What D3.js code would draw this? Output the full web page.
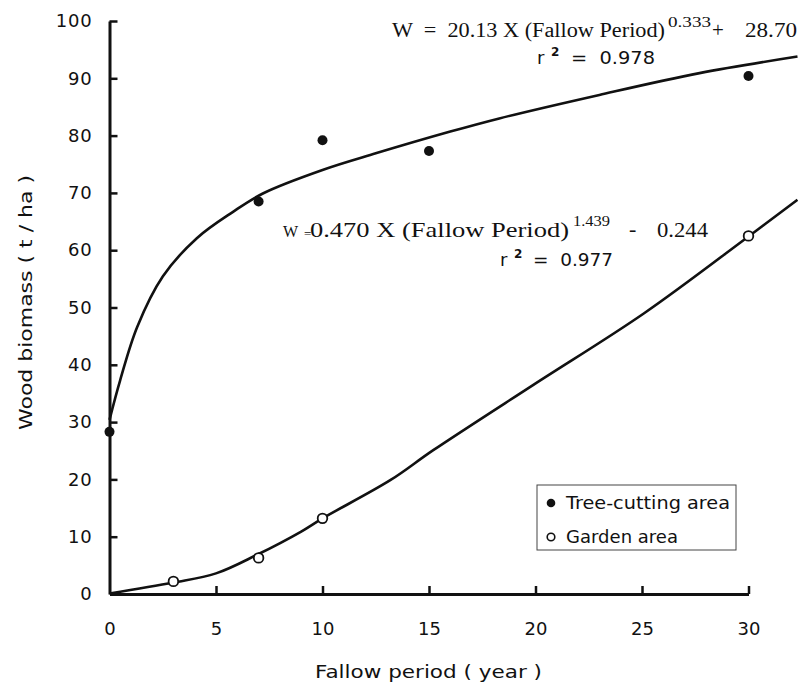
<!DOCTYPE html>
<html>
<head>
<meta charset="utf-8">
<script src="https://cdn.jsdelivr.net/npm/d3@7"></script>
<style>
  body { margin: 0; background: #fff; }
  svg { display: block; }
  .tick text { font-family: "DejaVu Sans", sans-serif; font-size: 18px; fill: #111; }
  .lbl { font-family: "DejaVu Sans", sans-serif; font-size: 18px; fill: #111; }
  .eq { font-family: "Liberation Serif", serif; fill: #111; }
  .r2 { font-family: "DejaVu Sans", sans-serif; fill: #111; }
</style>
</head>
<body>
<svg id="chart" width="798" height="685"></svg>
<script>
// observed points
const treeYears = [0, 7, 10, 15, 30];
const treeBiomass = [28.3, 68.5, 79.2, 77.3, 90.4];
const gardenYears = [3, 7, 10, 30];
const gardenBiomass = [2.2, 6.3, 13.2, 62.5];

// fitted curves
const treeCurveX = [0, 0.5, 1.3, 2.5, 4.1, 5.8, 7.2, 10, 12.5, 16, 18.3, 23, 27.7, 32.3];
const treeCurveY = [30.4, 37.3, 46.6, 55.4, 62.1, 66.7, 69.9, 74.0, 76.9, 80.7, 83.0, 87.1, 90.9, 93.8];
const gardenCurveX = [0, 3, 5, 6.9, 9, 10, 13.2, 15.2, 19.9, 25.1, 30, 32.3];
const gardenCurveY = [0.1, 2.0, 3.6, 6.8, 10.9, 13.2, 19.9, 25.1, 36.5, 49.0, 62.4, 68.8];

const xTicks = [0, 5, 10, 15, 20, 25, 30];
const yTicks = [0, 10, 20, 30, 40, 50, 60, 70, 80, 90, 100];
const legendLabels = ['Tree-cutting area', 'Garden area'];

const svg = d3.select('#chart');

const x = d3.scaleLinear().domain([0, 30]).range([109.5, 748.5]);
const y = d3.scaleLinear().domain([0, 100]).range([594, 21]);

// axes, ticks pointing inward
const xAxis = d3.axisBottom(x).tickValues(xTicks).tickSize(-8).tickPadding(28).tickSizeOuter(0);
const yAxis = d3.axisLeft(y).tickValues(yTicks).tickSize(-8).tickPadding(17).tickSizeOuter(0);

const gx = svg.append('g').attr('transform', `translate(0,${y(0)})`).call(xAxis);
const gy = svg.append('g').attr('transform', `translate(${x(0)},0)`).call(yAxis);
[gx, gy].forEach(g => {
    g.select('.domain').attr('stroke', '#111').attr('stroke-width', 3);
    g.selectAll('.tick line').attr('stroke', '#111').attr('stroke-width', 2.5);
});
gy.selectAll('.tick text').attr('letter-spacing', 0.8);
gy.selectAll('.tick').filter(d => d === 0).select('line').remove();
gx.selectAll('.tick').filter(d => d === 0).select('line').remove();

// axis titles
svg.append('text').attr('class', 'lbl')
    .attr('x', 315).attr('y', 678)
    .attr('textLength', 227).attr('lengthAdjust', 'spacingAndGlyphs')
    .text('Fallow period ( year )');
svg.append('text').attr('class', 'lbl')
    .attr('transform', 'translate(32,430) rotate(-90)')
    .attr('textLength', 255).attr('lengthAdjust', 'spacingAndGlyphs')
    .text('Wood biomass ( t / ha )');

// fitted curves
const line = d3.line().x(d => x(d[0])).y(d => y(d[1])).curve(d3.curveCatmullRom.alpha(0.5));

svg.append('path').datum(d3.zip(treeCurveX, treeCurveY))
    .attr('d', line).attr('fill', 'none').attr('stroke', '#111').attr('stroke-width', 2.6);
svg.append('path').datum(d3.zip(gardenCurveX, gardenCurveY))
    .attr('d', line).attr('fill', 'none').attr('stroke', '#111').attr('stroke-width', 2.6);

// points
svg.append('g').selectAll('circle')
    .data(d3.zip(treeYears, treeBiomass))
    .join('circle')
    .attr('cx', d => x(d[0])).attr('cy', d => y(d[1]))
    .attr('r', 5).attr('fill', '#111');

svg.append('g').selectAll('circle')
    .data(d3.zip(gardenYears, gardenBiomass))
    .join('circle')
    .attr('cx', d => x(d[0])).attr('cy', d => y(d[1]))
    .attr('r', 4.8).attr('fill', '#fff').attr('stroke', '#111').attr('stroke-width', 1.8);

// small helper for the equation pieces
function piece(cls, tx, ty, size, str, len) {
    const t = svg.append('text').attr('class', cls)
        .attr('x', tx).attr('y', ty).attr('font-size', size)
        .style('white-space', 'pre').text(str);
    if (len) t.attr('textLength', len).attr('lengthAdjust', 'spacingAndGlyphs');
    return t;
}

// tree-cutting fit
piece('eq', 392, 37, 20, 'W  =  20.13 X (Fallow Period)', 273);
piece('eq', 668, 27, 14, '0.333', 43);
piece('eq', 712, 37, 21, '+');
piece('eq', 745, 37, 20, '28.70', 52);
piece('r2', 537, 64, 18, 'r');
piece('r2', 551, 56, 12, '2').attr('font-weight', 'bold');
piece('r2', 571, 64, 18, '=  0.978', 84);

// garden fit
piece('eq', 283, 237, 16, 'W');
piece('eq', 304, 238, 13, '=');
piece('eq', 310, 237, 22, '0.470 X (Fallow Period)', 259);
piece('eq', 573, 226, 15, '1.439', 37);
piece('eq', 629, 236, 22, '-');
piece('eq', 657, 237, 22, '0.244', 51);
piece('r2', 500, 266, 18, 'r');
piece('r2', 514, 258, 12, '2').attr('font-weight', 'bold');
piece('r2', 533, 266, 18, '=  0.977', 80);

// legend
const legend = svg.append('g');
legend.append('rect')
    .attr('x', 537).attr('y', 485).attr('width', 199).attr('height', 65)
    .attr('fill', 'none').attr('stroke', '#444').attr('stroke-width', 1);
legendLabels.forEach((lab, i) => {
    const cy = 503 + i * 34;
    const c = legend.append('circle').attr('cx', 551).attr('cy', cy).attr('r', i === 0 ? 4.3 : 3.8);
    if (i === 0) c.attr('fill', '#111');
    else c.attr('fill', '#fff').attr('stroke', '#111').attr('stroke-width', 1.6);
    legend.append('text').attr('class', 'lbl')
        .attr('x', 566).attr('y', cy + 6)
        .style('font-size', '18px')
        .attr('textLength', i === 0 ? 164 : 112).attr('lengthAdjust', 'spacingAndGlyphs')
        .text(lab);
});
</script>
</body>
</html>
